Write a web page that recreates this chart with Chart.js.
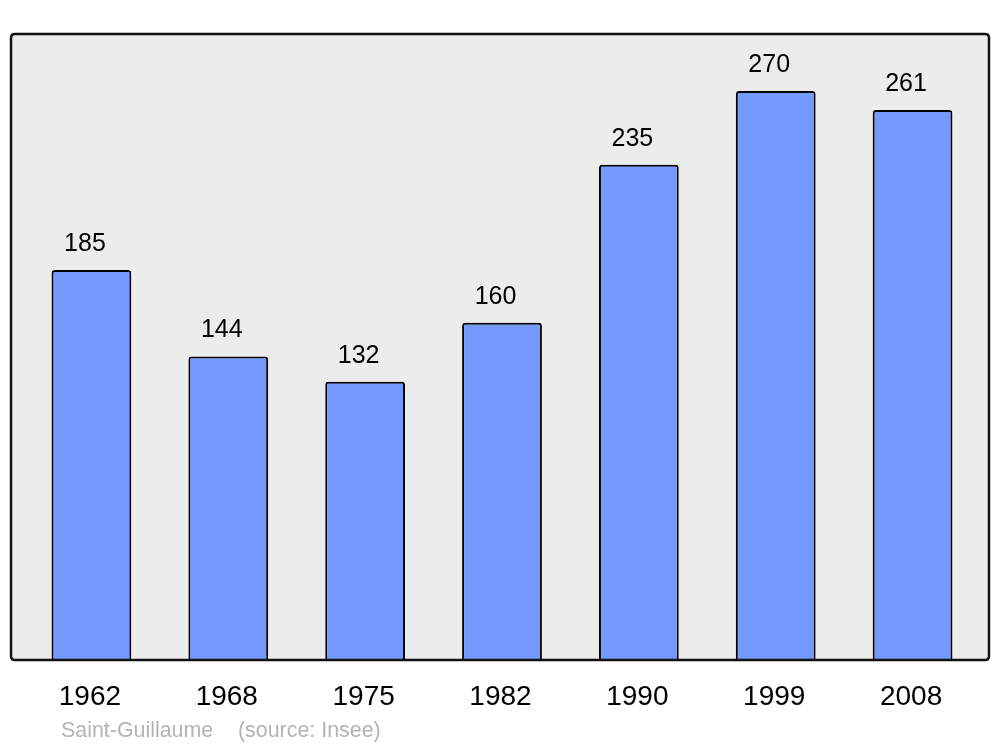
<!DOCTYPE html>
<html><head><meta charset="utf-8">
<script src="https://cdn.jsdelivr.net/npm/chart.js@4"></script>
<style>html,body{margin:0;padding:0;background:#fff}#w{width:1000px;height:747px}</style>
</head><body><div id="w"><canvas id="c" width="1000" height="747"></canvas></div>
<script>
const years = ['1962','1968','1975','1982','1990','1999','2008'];
const population = [185,144,132,160,235,270,261];
const footerName = 'Saint-Guillaume';
const footerSource = '(source: Insee)';

const FONT = '"Liberation Sans", Arial, sans-serif';

function rr(ctx,x,y,w,h,r){ctx.beginPath();ctx.moveTo(x+r,y);ctx.lineTo(x+w-r,y);ctx.quadraticCurveTo(x+w,y,x+w,y+r);ctx.lineTo(x+w,y+h-r);ctx.quadraticCurveTo(x+w,y+h,x+w-r,y+h);ctx.lineTo(x+r,y+h);ctx.quadraticCurveTo(x,y+h,x,y+h-r);ctx.lineTo(x,y+r);ctx.quadraticCurveTo(x,y,x+r,y);ctx.closePath();}

const deco = {
  id:'deco',
  beforeDatasetsDraw(chart){
    const {ctx, chartArea:a} = chart;
    ctx.save();
    rr(ctx, a.left-12, a.top, (a.right+8)-(a.left-12), a.bottom-a.top, 4);
    ctx.fillStyle='#ececec'; ctx.fill();
    ctx.restore();
  },
  afterDatasetsDraw(chart){
    const {ctx, chartArea:a} = chart;
    ctx.save();
    rr(ctx, a.left-12, a.top, (a.right+8)-(a.left-12), a.bottom-a.top, 4);
    ctx.lineWidth=2.5; ctx.strokeStyle='#111'; ctx.stroke();
    // value labels
    const meta = chart.getDatasetMeta(0);
    ctx.fillStyle='#000'; ctx.font='25px '+FONT; ctx.textAlign='center'; ctx.textBaseline='alphabetic';
    meta.data.forEach((bar,i)=>{ ctx.fillText(String(population[i]), bar.x-6.5, bar.y-19); });
    // category labels
    const xs = chart.scales.x;
    ctx.font='28px '+FONT;
    years.forEach((y,i)=>{ ctx.fillText(y, xs.getPixelForTick(i)-1.5, a.bottom+45); });
    // footer
    ctx.fillStyle='#b3b3b3'; ctx.font='21.4px '+FONT; ctx.textAlign='left';
    ctx.fillText(footerName, 61, 737);
    ctx.fillText(footerSource, 238, 737);
    ctx.restore();
  }
};

new Chart(document.getElementById('c'), {
  type:'bar',
  data:{labels:years, datasets:[{data:population, backgroundColor:'#7499ff', borderColor:'#000', borderWidth:2, borderRadius:3, borderSkipped:'bottom', barPercentage:0.583, categoryPercentage:1}]},
  options:{
    responsive:false, animation:false, devicePixelRatio:1,
    layout:{padding:{left:23,right:19,top:34,bottom:87}},
    plugins:{legend:{display:false}, tooltip:{enabled:false}, title:{display:false}},
    scales:{
      x:{display:false, offset:true},
      y:{display:false, min:0, max:297}
    }
  },
  plugins:[deco]
});
</script></body></html>
